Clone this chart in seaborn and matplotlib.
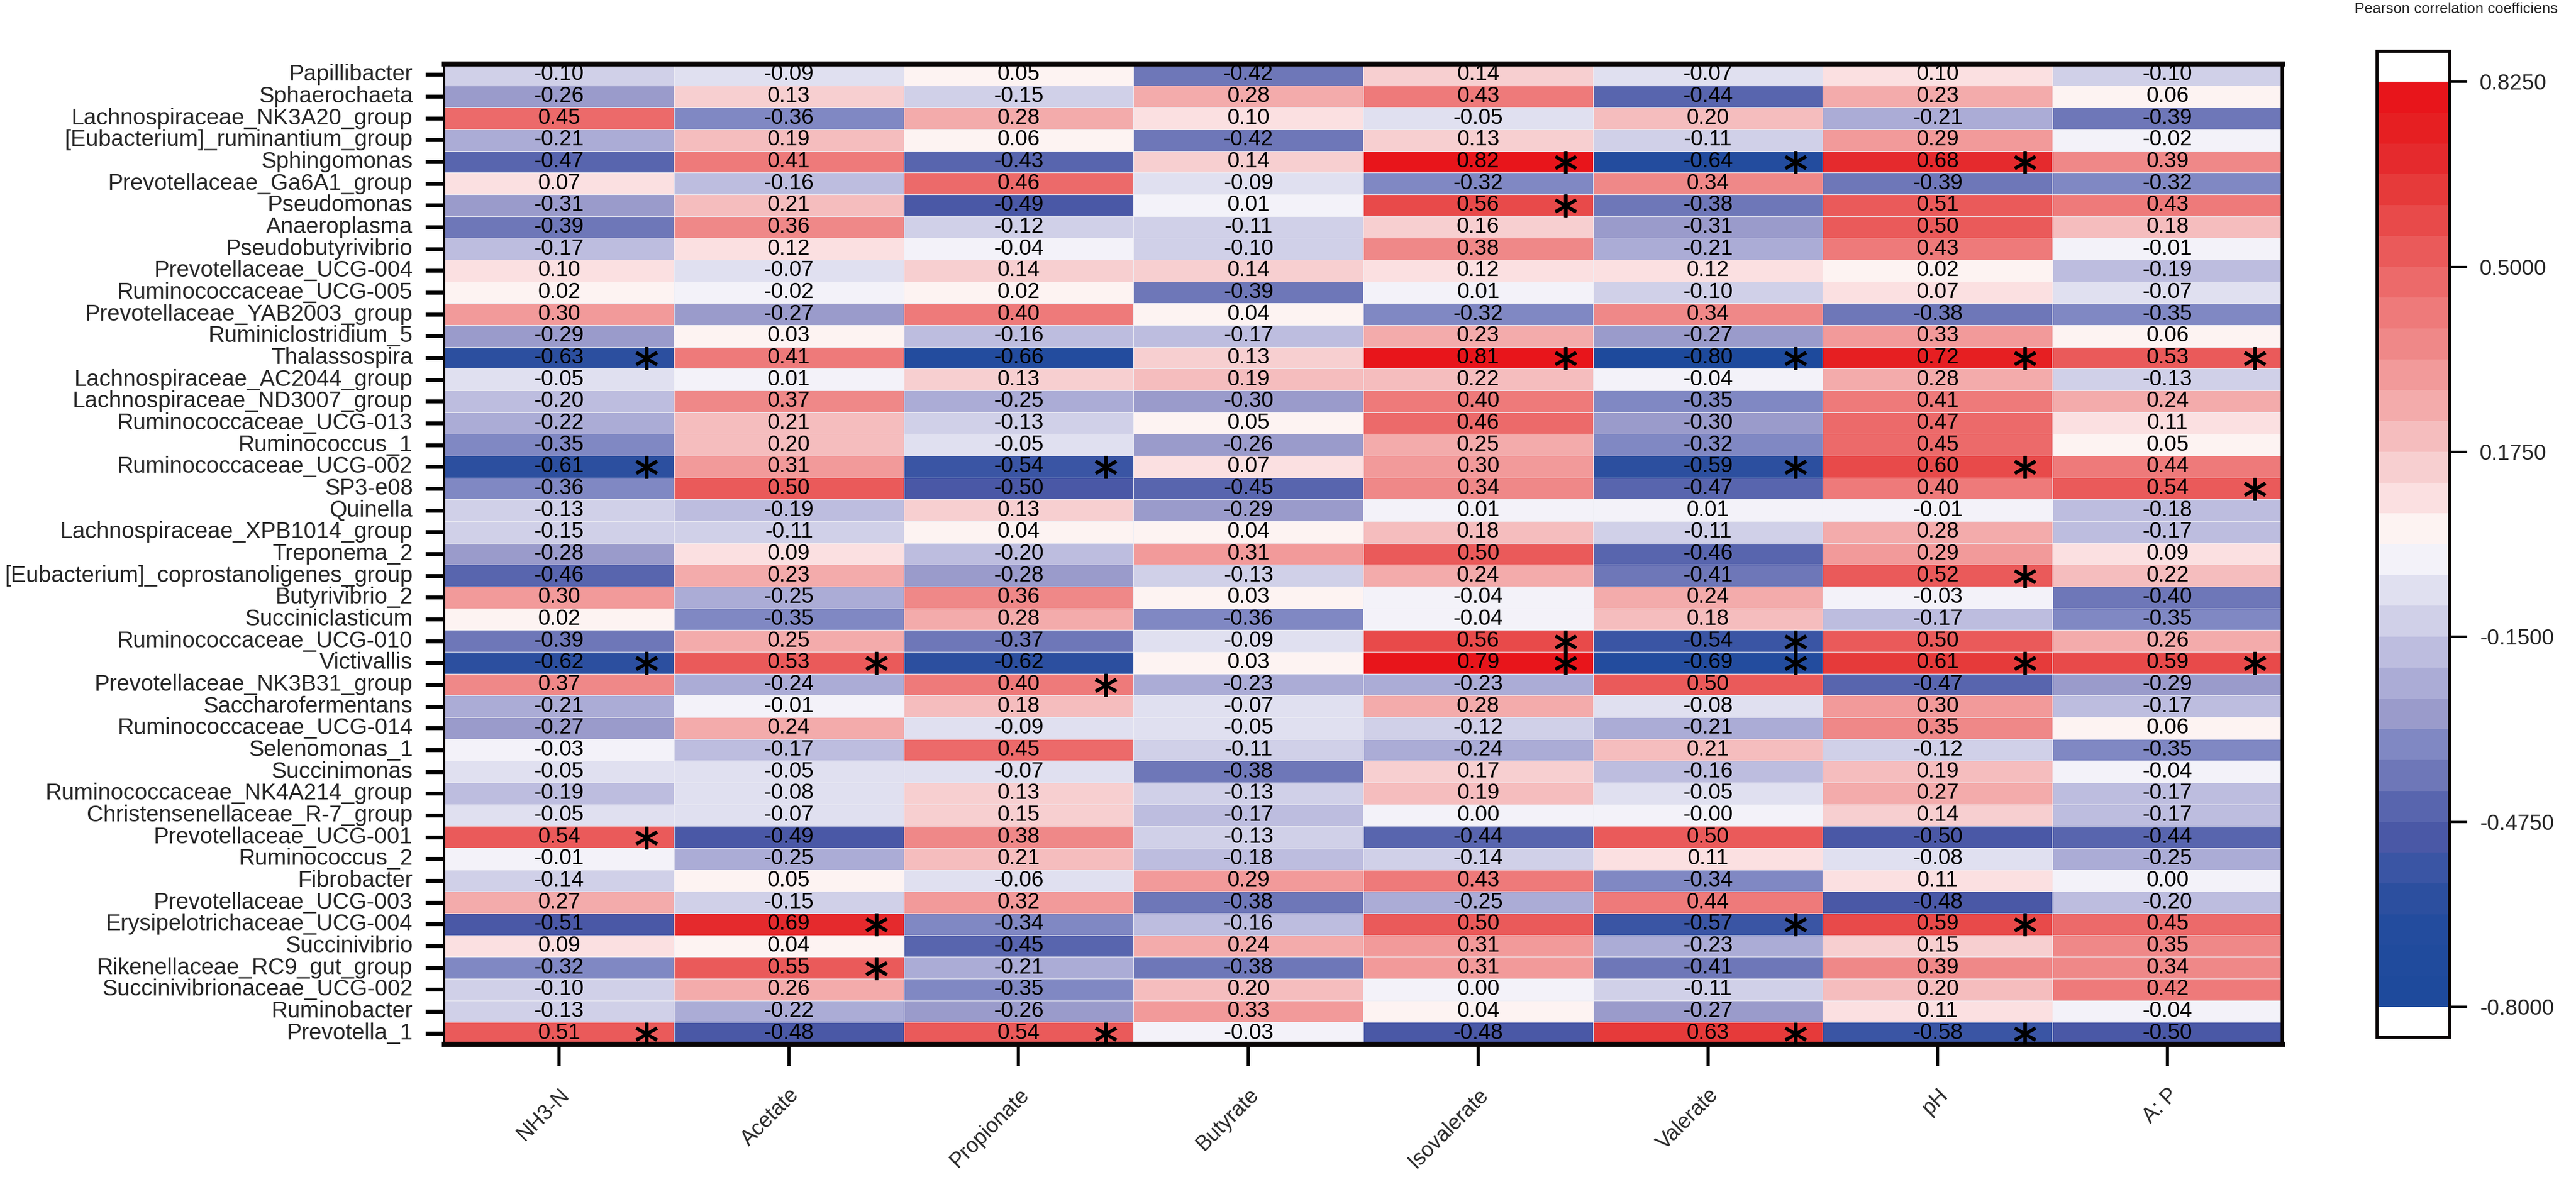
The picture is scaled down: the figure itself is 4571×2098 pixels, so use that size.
import numpy as np
import pandas as pd
import matplotlib
matplotlib.use('Agg')
import matplotlib.pyplot as plt
from matplotlib.colors import ListedColormap
import seaborn as sns

# %%
genera = [
    'Papillibacter', 'Sphaerochaeta', 'Lachnospiraceae_NK3A20_group',
    '[Eubacterium]_ruminantium_group', 'Sphingomonas', 'Prevotellaceae_Ga6A1_group',
    'Pseudomonas', 'Anaeroplasma', 'Pseudobutyrivibrio', 'Prevotellaceae_UCG-004',
    'Ruminococcaceae_UCG-005', 'Prevotellaceae_YAB2003_group', 'Ruminiclostridium_5',
    'Thalassospira', 'Lachnospiraceae_AC2044_group', 'Lachnospiraceae_ND3007_group',
    'Ruminococcaceae_UCG-013', 'Ruminococcus_1', 'Ruminococcaceae_UCG-002', 'SP3-e08',
    'Quinella', 'Lachnospiraceae_XPB1014_group', 'Treponema_2',
    '[Eubacterium]_coprostanoligenes_group', 'Butyrivibrio_2', 'Succiniclasticum',
    'Ruminococcaceae_UCG-010', 'Victivallis', 'Prevotellaceae_NK3B31_group',
    'Saccharofermentans', 'Ruminococcaceae_UCG-014', 'Selenomonas_1', 'Succinimonas',
    'Ruminococcaceae_NK4A214_group', 'Christensenellaceae_R-7_group',
    'Prevotellaceae_UCG-001', 'Ruminococcus_2', 'Fibrobacter', 'Prevotellaceae_UCG-003',
    'Erysipelotrichaceae_UCG-004', 'Succinivibrio', 'Rikenellaceae_RC9_gut_group',
    'Succinivibrionaceae_UCG-002', 'Ruminobacter', 'Prevotella_1',
]
factors = ['NH3-N', 'Acetate', 'Propionate', 'Butyrate', 'Isovalerate', 'Valerate', 'pH', 'A: P']

nh3_n = [-0.10, -0.26, 0.45, -0.21, -0.47, 0.07, -0.31, -0.39, -0.17, 0.10, 0.02, 0.30, -0.29,
         -0.63, -0.05, -0.20, -0.22, -0.35, -0.61, -0.36, -0.13, -0.15, -0.28, -0.46, 0.30, 0.02,
         -0.39, -0.62, 0.37, -0.21, -0.27, -0.03, -0.05, -0.19, -0.05, 0.54, -0.01, -0.14, 0.27,
         -0.51, 0.09, -0.32, -0.10, -0.13, 0.51]
acetate = [-0.09, 0.13, -0.36, 0.19, 0.41, -0.16, 0.21, 0.36, 0.12, -0.07, -0.02, -0.27, 0.03,
           0.41, 0.01, 0.37, 0.21, 0.20, 0.31, 0.50, -0.19, -0.11, 0.09, 0.23, -0.25, -0.35,
           0.25, 0.53, -0.24, -0.01, 0.24, -0.17, -0.05, -0.08, -0.07, -0.49, -0.25, 0.05, -0.15,
           0.69, 0.04, 0.55, 0.26, -0.22, -0.48]
propionate = [0.05, -0.15, 0.28, 0.06, -0.43, 0.46, -0.49, -0.12, -0.04, 0.14, 0.02, 0.40, -0.16,
              -0.66, 0.13, -0.25, -0.13, -0.05, -0.54, -0.50, 0.13, 0.04, -0.20, -0.28, 0.36, 0.28,
              -0.37, -0.62, 0.40, 0.18, -0.09, 0.45, -0.07, 0.13, 0.15, 0.38, 0.21, -0.06, 0.32,
              -0.34, -0.45, -0.21, -0.35, -0.26, 0.54]
butyrate = [-0.42, 0.28, 0.10, -0.42, 0.14, -0.09, 0.01, -0.11, -0.10, 0.14, -0.39, 0.04, -0.17,
            0.13, 0.19, -0.30, 0.05, -0.26, 0.07, -0.45, -0.29, 0.04, 0.31, -0.13, 0.03, -0.36,
            -0.09, 0.03, -0.23, -0.07, -0.05, -0.11, -0.38, -0.13, -0.17, -0.13, -0.18, 0.29, -0.38,
            -0.16, 0.24, -0.38, 0.20, 0.33, -0.03]
isovalerate = [0.14, 0.43, -0.05, 0.13, 0.82, -0.32, 0.56, 0.16, 0.38, 0.12, 0.01, -0.32, 0.23,
               0.81, 0.22, 0.40, 0.46, 0.25, 0.30, 0.34, 0.01, 0.18, 0.50, 0.24, -0.04, -0.04,
               0.56, 0.79, -0.23, 0.28, -0.12, -0.24, 0.17, 0.19, 0.00, -0.44, -0.14, 0.43, -0.25,
               0.50, 0.31, 0.31, 0.00, 0.04, -0.48]
valerate = [-0.07, -0.44, 0.20, -0.11, -0.64, 0.34, -0.38, -0.31, -0.21, 0.12, -0.10, 0.34, -0.27,
            -0.80, -0.04, -0.35, -0.30, -0.32, -0.59, -0.47, 0.01, -0.11, -0.46, -0.41, 0.24, 0.18,
            -0.54, -0.69, 0.50, -0.08, -0.21, 0.21, -0.16, -0.05, -0.0, 0.50, 0.11, -0.34, 0.44,
            -0.57, -0.23, -0.41, -0.11, -0.27, 0.63]
ph = [0.10, 0.23, -0.21, 0.29, 0.68, -0.39, 0.51, 0.50, 0.43, 0.02, 0.07, -0.38, 0.33,
      0.72, 0.28, 0.41, 0.47, 0.45, 0.60, 0.40, -0.01, 0.28, 0.29, 0.52, -0.03, -0.17,
      0.50, 0.61, -0.47, 0.30, 0.35, -0.12, 0.19, 0.27, 0.14, -0.50, -0.08, 0.11, -0.48,
      0.59, 0.15, 0.39, 0.20, 0.11, -0.58]
a_p = [-0.10, 0.06, -0.39, -0.02, 0.39, -0.32, 0.43, 0.18, -0.01, -0.19, -0.07, -0.35, 0.06,
       0.53, -0.13, 0.24, 0.11, 0.05, 0.44, 0.54, -0.18, -0.17, 0.09, 0.22, -0.40, -0.35,
       0.26, 0.59, -0.29, -0.17, 0.06, -0.35, -0.04, -0.17, -0.17, -0.44, -0.25, 0.00, -0.20,
       0.45, 0.35, 0.34, 0.42, -0.04, -0.50]

# cells marked with * (P < 0.05)
signif = [
    ('Sphingomonas', 'Isovalerate'), ('Sphingomonas', 'Valerate'), ('Sphingomonas', 'pH'),
    ('Pseudomonas', 'Isovalerate'),
    ('Thalassospira', 'NH3-N'), ('Thalassospira', 'Isovalerate'), ('Thalassospira', 'Valerate'),
    ('Thalassospira', 'pH'), ('Thalassospira', 'A: P'),
    ('Ruminococcaceae_UCG-002', 'NH3-N'), ('Ruminococcaceae_UCG-002', 'Propionate'),
    ('Ruminococcaceae_UCG-002', 'Valerate'), ('Ruminococcaceae_UCG-002', 'pH'),
    ('SP3-e08', 'A: P'),
    ('[Eubacterium]_coprostanoligenes_group', 'pH'),
    ('Ruminococcaceae_UCG-010', 'Isovalerate'), ('Ruminococcaceae_UCG-010', 'Valerate'),
    ('Victivallis', 'NH3-N'), ('Victivallis', 'Acetate'), ('Victivallis', 'Isovalerate'),
    ('Victivallis', 'Valerate'), ('Victivallis', 'pH'), ('Victivallis', 'A: P'),
    ('Prevotellaceae_NK3B31_group', 'Propionate'),
    ('Prevotellaceae_UCG-001', 'NH3-N'),
    ('Erysipelotrichaceae_UCG-004', 'Acetate'), ('Erysipelotrichaceae_UCG-004', 'Valerate'),
    ('Erysipelotrichaceae_UCG-004', 'pH'),
    ('Rikenellaceae_RC9_gut_group', 'Acetate'),
    ('Prevotella_1', 'NH3-N'), ('Prevotella_1', 'Propionate'), ('Prevotella_1', 'Valerate'),
    ('Prevotella_1', 'pH'),
]

cbar_ticks = [0.825, 0.5, 0.175, -0.15, -0.475, -0.8]
# %%

corr_df = pd.DataFrame(
    dict(zip(factors, [nh3_n, acetate, propionate, butyrate, isovalerate, valerate, ph, a_p])),
    index=genera)
annot_df = corr_df.apply(lambda col: col.map(lambda v: f'{v:.2f}'))

paleta = ListedColormap([
    '#1E4A9C', '#204B9D', '#234C9E', '#2C4F9F', '#3A55A4', '#4A58A6', '#5865AE', '#6E77B8',
    '#8088C3', '#9A9BCB', '#ABACD6', '#BDBDDF', '#D0D0E8', '#E0E0F0', '#F3F2F9',
    '#FDF3F2', '#FBE0E1', '#F7CFD0', '#F5BDBE', '#F3ABAB', '#F29A9A', '#EF8888', '#EE7A7A',
    '#EC6A6A', '#EA5A5A', '#E84A4A', '#E63A3A', '#E52A2D', '#E61F22', '#E8151B'])
paleta.set_over('white')
paleta.set_under('white')

sns.set_style('white')
plt.rcParams['font.family'] = ['Liberation Sans', 'DejaVu Sans']
plt.rcParams['axes.unicode_minus'] = False

fig = plt.figure(figsize=(45.71, 20.98), dpi=100)
ax = fig.add_axes([0.1724, 0.1168, 0.7136, 0.8294])
cax = fig.add_axes([0.9228, 0.1225, 0.0282, 0.8341])

sns.heatmap(corr_df, ax=ax, cbar_ax=cax, cmap=paleta, vmin=-0.8, vmax=0.825,
            annot=annot_df.values, fmt='', annot_kws={'fontsize': 28, 'color': 'black'},
            linewidths=0.6, linecolor='#eeeef4',
            xticklabels=factors, yticklabels=genera,
            cbar_kws={'extend': 'both', 'extendrect': True, 'extendfrac': 0.033,
                      'ticks': cbar_ticks, 'format': '%.4f'})

# asteriscos
for genus, factor in signif:
    i = genera.index(genus)
    j = factors.index(factor)
    ax.scatter(j + 0.88, i + 0.53, marker='$*$', s=800, color='black',
               edgecolors='black', linewidths=1.2, zorder=5)

for side, lw in [('top', 6.5), ('bottom', 6.5), ('left', 3), ('right', 4.5)]:
    ax.spines[side].set_visible(True)
    ax.spines[side].set_linewidth(lw)
    ax.spines[side].set_color('#0a0606')

ax.set_yticklabels(genera, rotation=0, fontsize=29)
ax.set_xticklabels(factors, rotation=45, ha='right', va='top', rotation_mode='anchor', fontsize=27)
ax.tick_params(axis='y', left=True, length=24, width=5, pad=16, color='black')
ax.tick_params(axis='x', bottom=True, length=28, width=4, pad=24, color='black')
ax.set_xlabel('')
ax.set_ylabel('')

cbar = ax.collections[0].colorbar
cbar.ax.tick_params(length=22, width=3, labelsize=28, pad=16, color='black')
cbar.outline.set_linewidth(4)
cbar.outline.set_edgecolor('#0a0606')

fig.text(0.914, 0.998, 'Pearson correlation coefficiens', ha='left', va='top', fontsize=19)

plt.savefig('out.png', dpi=100)
